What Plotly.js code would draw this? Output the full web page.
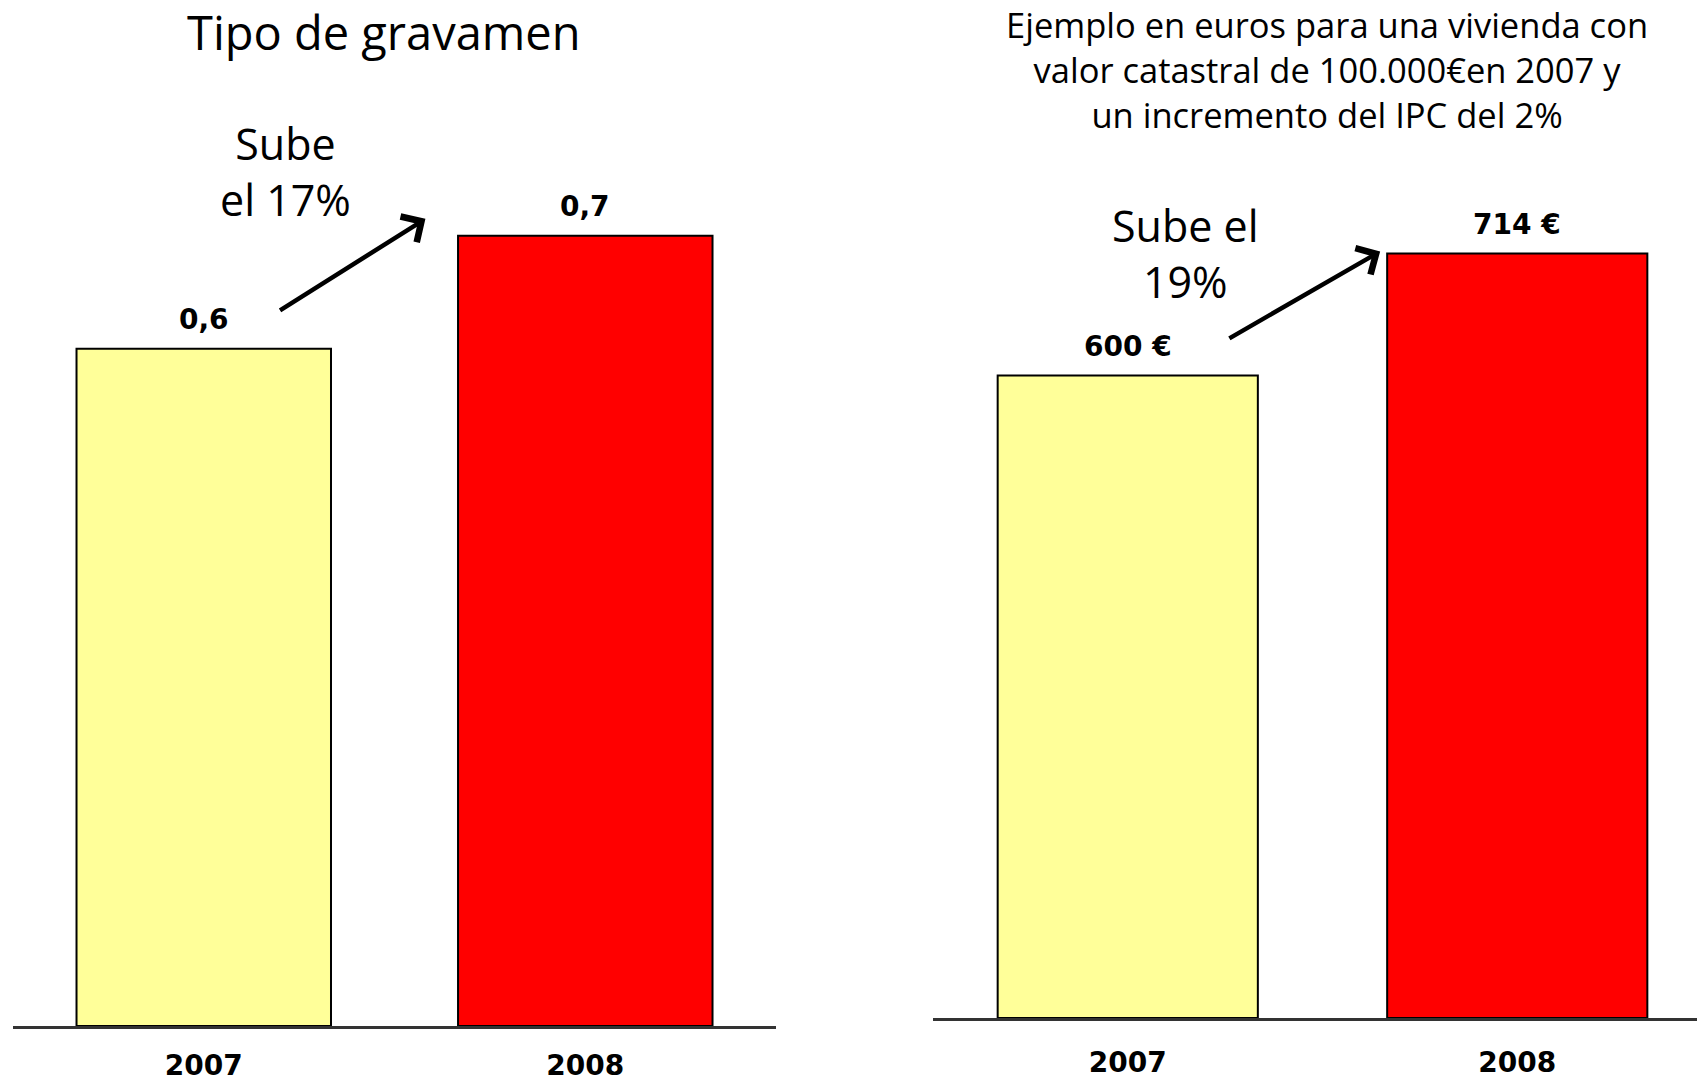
<!DOCTYPE html>
<html>
<head>
<meta charset="utf-8">
<script src="https://cdn.plot.ly/plotly-3.0.1.min.js"></script>
<style>
  html, body { margin: 0; padding: 0; background: #ffffff; }
  #chart { width: 1697px; height: 1083px; }
</style>
</head>
<body>
<div id="chart"></div>
<script>
// ---- Data ----
const years = ['2007', '2008'];
const tipoGravamen = [0.6, 0.7];
const tipoLabels = ['0,6', '0,7'];
const cuotaEuros = [600, 714];
const cuotaLabels = ['600 €', '714 €'];
const barColors = ['#FFFF99', '#FF0000'];
const titleLeft = 'Tipo de gravamen';
const titleRight = 'Ejemplo en euros para una vivienda con<br>valor catastral de 100.000€en 2007 y<br>un incremento del IPC del 2%';
const noteLeft = 'Sube<br>el 17%';
const noteRight = 'Sube el<br>19%';

const REG = '"Open Sans", Lato, sans-serif';
const BOLD = '"DejaVu Sans", Verdana, sans-serif';

const traces = [
  {
    type: 'bar', x: years, y: tipoGravamen, xaxis: 'x', yaxis: 'y',
    width: 0.667,
    marker: { color: barColors, line: { color: '#000000', width: 2 } },
    hoverinfo: 'skip', showlegend: false
  },
  {
    type: 'bar', x: years, y: cuotaEuros, xaxis: 'x2', yaxis: 'y2',
    width: 0.668,
    marker: { color: barColors, line: { color: '#000000', width: 2 } },
    hoverinfo: 'skip', showlegend: false
  }
];

const annotations = [];
// value labels above bars (category axes: position by category index)
years.forEach((yr, i) => {
  annotations.push({
    x: i, y: tipoGravamen[i], xref: 'x', yref: 'y', text: tipoLabels[i],
    showarrow: false, yanchor: 'middle', yshift: 29,
    font: { family: BOLD, size: 28, color: '#000', weight: 'bold' }
  });
  annotations.push({
    x: i, y: cuotaEuros[i], xref: 'x2', yref: 'y2', text: cuotaLabels[i],
    showarrow: false, yanchor: 'middle', yshift: 29,
    font: { family: BOLD, size: 28, color: '#000', weight: 'bold' }
  });
});
// titles
annotations.push({
  x: 0.2263, y: 0.97, xref: 'paper', yref: 'paper', text: titleLeft,
  showarrow: false, xanchor: 'center', yanchor: 'middle',
  font: { family: REG, size: 47, color: '#000', weight: 500 }
});
annotations.push({
  x: 0.782, y: 0.9354, xref: 'paper', yref: 'paper', text: titleRight,
  showarrow: false, xanchor: 'center', yanchor: 'middle', align: 'center',
  font: { family: REG, size: 34.5, color: '#000', weight: 500 }
});
// notes
annotations.push({
  x: 0.168, y: 0.8416, xref: 'paper', yref: 'paper', text: noteLeft,
  showarrow: false, xanchor: 'center', yanchor: 'middle', align: 'center',
  font: { family: REG, size: 43, color: '#000', weight: 500 }
});
annotations.push({
  x: 0.6983, y: 0.766, xref: 'paper', yref: 'paper', text: noteRight,
  showarrow: false, xanchor: 'center', yanchor: 'middle', align: 'center',
  font: { family: REG, size: 43, color: '#000', weight: 500 }
});
// arrows
annotations.push({
  x: 0.581, y: 0.715, xref: 'x', yref: 'y',
  ax: 0.196, ay: 0.633, axref: 'x', ayref: 'y',
  text: '', showarrow: true, arrowhead: 4, arrowsize: 1.3, arrowwidth: 4.5,
  arrowcolor: '#000', standoff: 0
});
annotations.push({
  x: 0.648, y: 716, xref: 'x2', yref: 'y2',
  ax: 0.257, ay: 634, axref: 'x2', ayref: 'y2',
  text: '', showarrow: true, arrowhead: 4, arrowsize: 1.3, arrowwidth: 4.5,
  arrowcolor: '#000', standoff: 0
});

const axisCommon = {
  type: 'category', showline: true, linecolor: '#333333', linewidth: 3,
  ticks: '', showgrid: false, zeroline: false, fixedrange: true,
  tickfont: { family: BOLD, size: 28, color: '#000', weight: 'bold' }
};

const layout = {
  width: 1697, height: 1083,
  margin: { l: 0, r: 0, t: 0, b: 0 },
  paper_bgcolor: '#ffffff', plot_bgcolor: 'rgba(0,0,0,0)',
  showlegend: false,
  xaxis: Object.assign({}, axisCommon, { domain: [0.00766, 0.4573], range: [-0.5, 1.5], anchor: 'y', ticklabelstandoff: 12 }),
  yaxis: { domain: [0.0526, 1], range: [0, 0.9088], visible: false, fixedrange: true, anchor: 'x' },
  xaxis2: Object.assign({}, axisCommon, { domain: [0.5498, 1], range: [-0.5, 1.4615], anchor: 'y2', ticklabelstandoff: 17 }),
  yaxis2: { domain: [0.06, 1], range: [0, 950.8], visible: false, fixedrange: true, anchor: 'x2' },
  annotations: annotations
};

Plotly.newPlot('chart', traces, layout, { displayModeBar: false, staticPlot: true });
</script>
</body>
</html>
